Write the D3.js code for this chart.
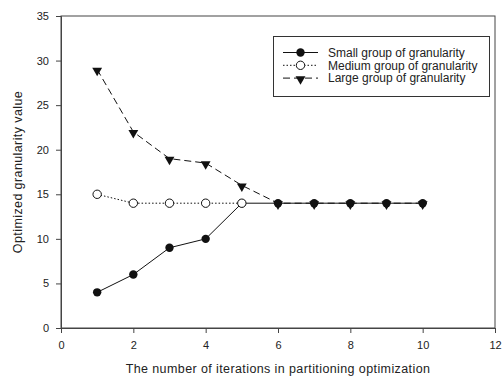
<!DOCTYPE html>
<html>
<head>
<meta charset="utf-8">
<script src="https://cdn.jsdelivr.net/npm/d3@7"></script>
<style>
  body { margin: 0; background: #fff; }
  text { font-family: "Liberation Sans", Arial, sans-serif; fill: #222; }
</style>
</head>
<body>
<svg id="chart"></svg>
<script>
// chart values
const iterations = [1, 2, 3, 4, 5, 6, 7, 8, 9, 10];
const smallGroup = [4, 6, 9, 10, 14, 14, 14, 14, 14, 14];
const mediumGroup = [15, 14, 14, 14, 14];
const largeGroup = [29, 22, 19, 18.5, 16, 14, 14, 14, 14, 14];
const xTicks = [0, 2, 4, 6, 8, 10, 12];
const yTicks = [0, 5, 10, 15, 20, 25, 30, 35];
const seriesNames = ['Small group of granularity', 'Medium group of granularity', 'Large group of granularity'];

const width = 503, height = 379;
const margin = { top: 16, right: 8, bottom: 51, left: 61 };

const svg = d3.select('#chart')
  .attr('width', width)
  .attr('height', height);

const x = d3.scaleLinear()
  .domain([0, 12])
  .range([margin.left, width - margin.right]);

const y = d3.scaleLinear()
  .domain([0, 35])
  .range([height - margin.bottom, margin.top]);

// frame
svg.append('rect')
  .attr('x', x(0))
  .attr('y', y(35))
  .attr('width', x(12) - x(0))
  .attr('height', y(0) - y(35))
  .attr('fill', 'none')
  .attr('stroke', '#444')
  .attr('stroke-width', 1);

const xAxis = svg.append('g')
  .attr('transform', `translate(0,${y(0)})`)
  .call(d3.axisBottom(x).tickValues(xTicks).tickSize(5).tickPadding(8).tickFormat(d3.format('d')));

const yAxis = svg.append('g')
  .attr('transform', `translate(${x(0)},0)`)
  .call(d3.axisLeft(y).tickValues(yTicks).tickSize(5).tickPadding(7).tickFormat(d3.format('d')));

[xAxis, yAxis].forEach(a => {
  a.select('.domain').attr('stroke', '#444');
  a.selectAll('.tick line').attr('stroke', '#444');
  a.selectAll('.tick text').style('font-size', '11px').style('font-family', '"Liberation Sans", Arial, sans-serif').attr('fill', '#333');
});

// axis titles
svg.append('text')
  .attr('x', (x(0) + x(12)) / 2)
  .attr('y', 373)
  .attr('text-anchor', 'middle')
  .style('font-size', '12.5px')
  .style('letter-spacing', '0.4px')
  .text('The number of iterations in partitioning optimization');

svg.append('text')
  .attr('transform', `translate(22,${(y(0) + y(35)) / 2}) rotate(-90)`)
  .attr('text-anchor', 'middle')
  .style('font-size', '12.5px')
  .style('letter-spacing', '0.4px')
  .text('Optimized granularity value');

const line = d3.line()
  .x((d, i) => x(iterations[i]))
  .y(d => y(d));

const tri = d3.symbol().type(d3.symbolTriangle).size(42);

function drawMarker(g, type, cx, cy) {
  if (type === 'circle') {
    g.append('circle').attr('cx', cx).attr('cy', cy).attr('r', 4.2).attr('fill', '#111');
  } else if (type === 'open') {
    g.append('circle').attr('cx', cx).attr('cy', cy).attr('r', 4.2).attr('fill', '#fff').attr('stroke', '#111').attr('stroke-width', 1);
  } else {
    g.append('path').attr('d', tri).attr('transform', `translate(${cx},${cy + 1}) rotate(180)`).attr('fill', '#111');
  }
}

const series = [
  { name: seriesNames[0], values: smallGroup, dash: null, marker: 'circle' },
  { name: seriesNames[1], values: mediumGroup, dash: '1.5,2', marker: 'open' },
  { name: seriesNames[2], values: largeGroup, dash: '7,4', marker: 'tri' }
];

// large underneath, then small, medium on top
const order = [2, 0, 1];
order.forEach(k => {
  const s = series[k];
  svg.append('path')
    .datum(s.values)
    .attr('d', line)
    .attr('fill', 'none')
    .attr('stroke', '#111')
    .attr('stroke-width', 1)
    .attr('stroke-dasharray', s.dash);
  const g = svg.append('g');
  s.values.forEach((v, i) => drawMarker(g, s.marker, x(iterations[i]), y(v)));
});

// legend
const legend = svg.append('g');
legend.append('rect')
  .attr('x', 273.5).attr('y', 36.5)
  .attr('width', 216).attr('height', 60)
  .attr('fill', '#fff')
  .attr('stroke', '#333');

series.forEach((s, i) => {
  const ly = 52.5 + i * 12.8;
  legend.append('line')
    .attr('x1', 283).attr('x2', 318)
    .attr('y1', ly).attr('y2', ly)
    .attr('stroke', '#111')
    .attr('stroke-dasharray', s.dash);
  drawMarker(legend, s.marker, 300.5, ly);
  legend.append('text')
    .attr('x', 328).attr('y', ly + 4.2)
    .style('font-size', '12px')
    .text(s.name);
});
</script>
</body>
</html>
